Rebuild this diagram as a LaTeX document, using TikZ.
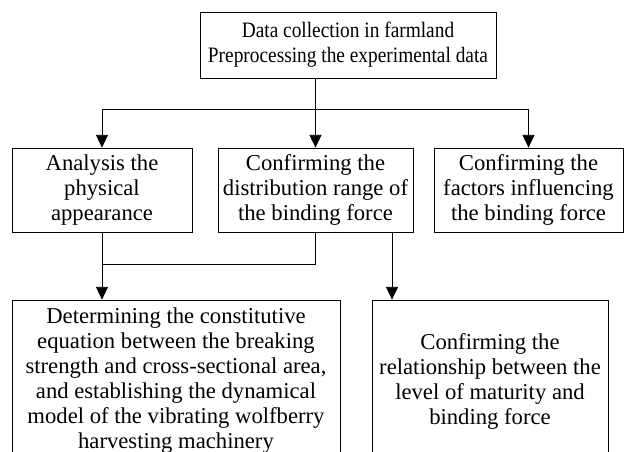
\documentclass[tikz,border=0pt]{standalone}
\usepackage{fontspec}
\setmainfont{Liberation Serif}
\usepackage{tikz}
\usetikzlibrary{arrows.meta}

\tikzset{
  stagebox/.style={draw,line width=0.6pt,align=center,inner sep=0pt,
    font=\fontsize{17}{18.75}\selectfont},
  flow/.style={line width=0.6pt,-{Triangle[length=9.5pt,width=9pt]}}
}

\begin{document}
\begin{tikzpicture}[x=0.75pt,y=-0.75pt]
      \useasboundingbox (0,0) rectangle (627,452);
      \clip (0,0) rectangle (627,452);
      \node[stagebox,font=\fontsize{16.5}{18.75}\selectfont\addfontfeature{FakeStretch=0.88},
        minimum width=296*0.75pt,minimum height=66*0.75pt] (collect) at (348,45)
        {Data collection in farmland\\Preprocessing the experimental data};
      \node[stagebox,minimum width=180*0.75pt,minimum height=84*0.75pt] (appear) at (102,190)
        {Analysis the\\physical\\appearance};
      \node[stagebox,minimum width=195*0.75pt,minimum height=84*0.75pt] (range) at (315.5,190)
        {Confirming the\\distribution range of\\the binding force};
      \node[stagebox,minimum width=189*0.75pt,minimum height=84*0.75pt] (factors) at (528.5,190)
        {Confirming the\\factors influencing\\the binding force};
      \node[stagebox,minimum width=328*0.75pt,minimum height=162*0.75pt] (model) at (176,381)
        {Determining the constitutive\\equation between the breaking\\strength and cross-sectional area,\\and establishing the dynamical\\model of the vibrating wolfberry\\harvesting machinery};
      \node[stagebox,minimum width=236*0.75pt,minimum height=162*0.75pt] (maturity) at (490,381)
        {Confirming the\\relationship between the\\level of maturity and\\binding force};
      \coordinate (split) at (316,109);
      \coordinate (join) at (102,264);
      \coordinate (tap) at (392,232);
      % first level
      \draw[flow] (collect.south -| range.north) -- (range.north);
      \draw[line width=0.6pt] (appear.north |- split) -- (factors.north |- split);
      \draw[flow] (appear.north |- split) -- (appear.north);
      \draw[flow] (factors.north |- split) -- (factors.north);
      % second level
      \draw[line width=0.6pt] (range.south) |- (join);
      \draw[flow] (appear.south) -- (appear.south |- model.north);
      \draw[flow] (tap) -- (tap |- maturity.north);
    \end{tikzpicture}
\end{document}
